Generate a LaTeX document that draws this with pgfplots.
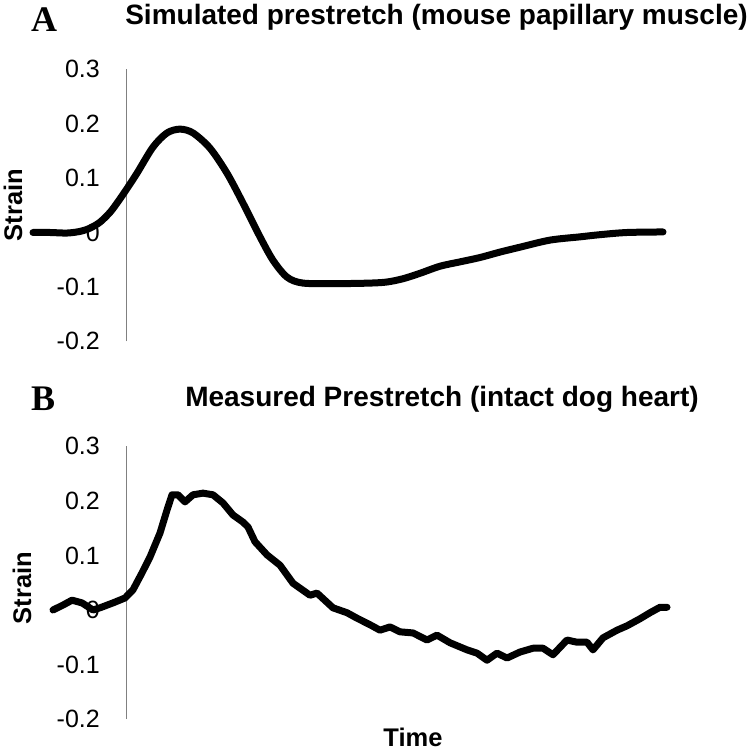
\documentclass[border=0pt]{standalone}
\usepackage{fontspec}
\setmainfont{Liberation Sans}
\newfontfamily\panelfont{Liberation Serif}
\usepackage{pgfplots}
\pgfplotsset{compat=1.18}
\pgfplotsset{panel/.style={
  x=1pt, xmin=-100, xmax=545, ymin=-0.2, ymax=0.3,
  axis y line=middle, axis x line=none,
  y axis line style={-, draw=gray, line width=0.9pt},
  ytick={-0.2,-0.1,0,0.1,0.2,0.3},
  yticklabels={-0.2,-0.1,0,0.1,0.2,0.3},
  major tick length=0pt,
  yticklabel style={font=\fontsize{25}{30}\selectfont, anchor=east, inner sep=0pt, xshift=-26pt},
  clip=false,
  scale only axis,
}}
\begin{document}
\begin{tikzpicture}
\path[use as bounding box] (0pt,0pt) rectangle (755pt,750pt);
% Panel A
\begin{axis}[panel, y=544pt, anchor=south west, at={(26pt,408.7pt)}]
\addplot[black, line width=7pt, line cap=round, line join=round, smooth, tension=0.5] coordinates {
(-93,0.000) (-76,0.000) (-59,-0.001) (-46,0.002) (-36,0.008) (-26,0.019) (-16,0.037) (-9,0.054)
(0,0.078) (11,0.109) (27,0.157) (41,0.183) (54,0.190) (67,0.183) (84,0.155) (101,0.109)
(117,0.054) (134,-0.008) (147,-0.051) (161,-0.082) (177,-0.093) (211,-0.094) (244,-0.093)
(261,-0.091) (277,-0.085) (294,-0.075) (314,-0.062) (334,-0.054) (354,-0.046) (374,-0.036)
(394,-0.027) (424,-0.014) (454,-0.008) (474,-0.004) (501,0.000) (537,0.001)
};
\end{axis}
% Panel B
\begin{axis}[panel, y=546pt, anchor=south west, at={(26pt,30.8pt)}]
\addplot[black, line width=7pt, line cap=round, line join=round] coordinates {
(-73,0.000) (-63,0.009) (-54,0.018) (-44,0.013) (-33,0.000) (-26,0.004) (-13,0.013) (-1,0.022)
(7,0.037) (16,0.068) (24,0.097) (34,0.141) (41,0.183) (46,0.211) (52,0.211) (59,0.198)
(67,0.211) (77,0.214) (87,0.211) (97,0.196) (107,0.174) (117,0.161) (122,0.152) (129,0.125)
(141,0.101) (154,0.082) (167,0.049) (184,0.027) (191,0.031) (207,0.004) (221,-0.005)
(231,-0.015) (244,-0.027) (254,-0.037) (264,-0.031) (274,-0.040) (287,-0.042) (301,-0.055)
(311,-0.046) (324,-0.060) (341,-0.073) (351,-0.079) (361,-0.092) (371,-0.079) (381,-0.088)
(394,-0.077) (407,-0.070) (417,-0.070) (427,-0.082) (441,-0.055) (451,-0.059) (461,-0.059)
(467,-0.073) (477,-0.051) (491,-0.037) (501,-0.029) (514,-0.016) (524,-0.005) (534,0.005)
(541,0.005)
};
\end{axis}
% Labels
\node[font=\panelfont\bfseries\fontsize{36}{40}\selectfont, anchor=base west, inner sep=0pt] at (31pt,718pt) {A};
\node[font=\panelfont\bfseries\fontsize{36}{40}\selectfont, anchor=base west, inner sep=0pt] at (31pt,339pt) {B};
\node[font=\bfseries\fontsize{28}{32}\selectfont, anchor=base, inner sep=0pt] at (436.5pt,725pt) {Simulated prestretch (mouse papillary muscle)};
\node[font=\bfseries\fontsize{28}{32}\selectfont, anchor=base, inner sep=0pt] at (442pt,343pt) {Measured Prestretch (intact dog heart)};
\node[font=\bfseries\fontsize{25.5}{30}\selectfont, rotate=90, inner sep=0pt] at (13pt,545pt) {Strain};
\node[font=\bfseries\fontsize{25.5}{30}\selectfont, rotate=90, inner sep=0pt] at (22pt,162pt) {Strain};
\node[font=\bfseries\fontsize{25.5}{30}\selectfont, inner sep=0pt] at (413pt,13pt) {Time};
\end{tikzpicture}
\end{document}
